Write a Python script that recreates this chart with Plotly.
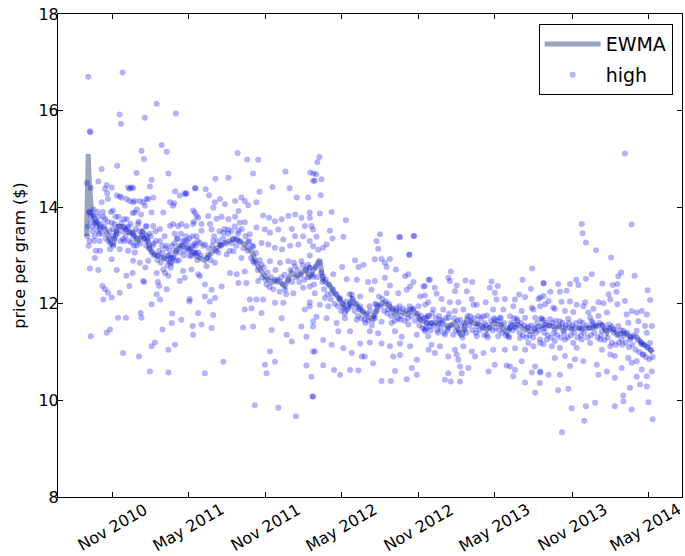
import pandas as pd
import plotly.graph_objects as go

START = "2010-09-01"

# ---- scatter "high": day offsets from START and price per gram ----
a_top_day = [4,86,167,213,79,82,139,8,9,179,131,191,137,73,36,119,195,155,28,1,48,10,151,258,107,44,111,211,234,236,49,222,72,79,159,95,103,115,127,135,147,139,36,206,209,51,63,115,155,183,258,8,16,99,103,238,199,143,83,111,60,254,262]
a_top_val = [16.70,16.79,16.14,15.94,15.92,15.73,15.85,15.57,15.55,15.29,15.17,15.15,15.00,14.86,14.79,14.71,14.70,14.57,14.53,14.50,14.46,14.40,14.43,14.39,14.41,14.38,14.40,14.33,14.29,14.27,14.29,14.24,14.24,14.22,14.20,14.17,14.13,14.13,14.13,14.10,14.17,14.03,14.10,14.03,14.08,14.17,13.93,13.89,13.89,13.89,13.89,13.89,13.82,14.41,14.38,14.29,14.10,14.17,14.20,14.10,14.41,13.93,13.82]

a_mid_day = [20,24,32,44,60,67,83,91,103,110,123,143,159,175,199,206,218,226,238,254,256,63,87,107,119,139,175,191,215,234,254,79,32,56,99,115,155,199,222,246,266]
a_mid_val = [13.68,13.61,13.55,13.75,13.68,13.65,13.68,13.58,13.48,13.88,13.65,13.61,13.61,13.55,13.61,13.65,13.61,13.65,13.61,13.65,13.70,13.41,13.34,13.27,13.20,13.34,13.30,13.20,13.34,13.30,13.20,13.13,13.10,13.13,13.10,13.06,13.06,13.10,13.06,12.99,13.06]

a_ext_day = [2,5,6,12,14,18,22,26,30,40,52,58,64,70,76,90,96,100,112,120,126,130,134,142,150,160,164,170,180,186,194,200,204,210,220,228,232,240,244,250,260,264]
a_ext_val = [13.40,13.20,13.90,13.70,13.50,13.30,13.10,13.90,13.45,13.80,13.30,13.90,13.20,13.50,13.80,13.30,13.75,13.60,13.40,13.95,13.50,13.85,13.40,13.20,13.45,13.25,13.50,13.00,13.20,13.40,13.00,12.95,13.20,13.45,12.90,13.20,13.00,13.30,13.10,13.00,13.20,12.90]

a_low_day = [8,28,60,72,95,111,127,147,167,183,199,215,230,250,266,38,40,60,44,51,79,102,135,137,173,170,191,195,187,222,234,246,245,167,155,175,10,48,56,75,94,131,129,155,163,181,195,211,203,226,204,253,254,87,125,151,195,110,20,140]
a_low_val = [12.73,12.70,12.92,12.70,12.58,12.89,12.85,12.89,12.64,12.71,12.85,12.89,12.68,12.71,12.61,12.37,12.09,12.13,12.30,12.23,12.23,12.37,12.47,12.45,12.37,12.45,12.30,12.58,12.64,12.47,12.54,12.10,12.05,12.20,11.99,12.09,11.33,11.40,11.47,11.71,11.71,11.71,11.81,11.12,11.20,11.47,11.05,11.15,11.60,11.67,11.80,11.54,11.36,10.98,10.91,10.60,10.58,12.64,12.95,12.75]

a_core_day = [3,7,11,15,17,19,23,27,29,31,34,37,39,42,46,50,54,57,62,66,69,74,78,81,85,89,93,97,101,105,109,113,117,121,124,128,133,137,141,145,149,153,157,161,165,169,173,177,181,185,189,193,197,201,205,209,213,217,221,225,229,233,237,241,245,249,253,257,261,265]
a_core_val = [13.6,13.3,13.8,13.6,13.95,13.4,13.7,13.5,13.8,13.3,13.65,13.45,13.9,13.6,13.35,13.7,13.5,13.25,13.55,13.35,13.8,13.45,13.6,13.3,13.5,13.75,13.4,13.55,13.3,13.65,13.45,13.2,13.55,13.35,13.7,13.25,13.5,13.35,13.6,13.3,13.15,13.4,13.2,13.0,13.3,12.9,13.1,12.85,13.05,12.95,13.15,12.8,13.0,12.75,12.95,13.25,13.1,13.35,13.2,13.45,13.3,13.1,13.4,13.2,13.35,13.15,13.4,13.25,13.05,13.3]

b_day = [360,383,409,397,474,307,338,443,484,412,284,292,260,540,501,528,318,306,354,377,405,369,302,330,362,385,310,338,290,266,274,294,322,354,377,365,421,435,449,465,481,497,512,532,489,520,540,405,425,437,457,338,326,298,274,262,362,389,270,282,302,318,346,358,385,397,417,433,449,466,485,505,516,532,497,469,258,290,314,334,350,369,397,417,437,461,481,497,512,528,286,306,342,358,377,270,282,298,322,362,381,409,429,449,473,493,516,532,282,294,306,389,405,421,449,469,520,532,377,393,417,465,266,302,274,298,373,397,441,477,489,512,524,540,437,425,449,429,326,282,524,540,401,457,499,538]
b_val = [15.12,14.99,14.98,14.70,14.74,14.59,14.61,14.42,14.39,14.32,14.37,14.25,14.39,14.55,14.20,14.20,14.17,14.10,14.13,14.13,14.10,14.20,13.99,14.06,13.92,14.04,13.76,13.75,13.82,13.78,13.65,13.65,13.80,13.80,13.69,13.68,13.83,13.78,13.71,13.75,13.82,13.85,13.78,13.78,13.55,13.61,13.54,13.58,13.54,13.47,13.54,13.54,13.47,13.54,13.51,13.40,13.51,13.44,13.26,13.23,13.30,13.23,13.26,13.33,13.28,13.18,13.26,13.23,13.16,13.13,13.20,13.23,13.40,13.30,13.40,13.33,13.06,13.02,13.06,13.02,13.09,12.95,12.88,12.81,12.88,12.85,12.88,12.78,12.88,12.81,12.78,12.85,12.64,12.61,12.67,12.57,12.40,12.29,12.36,12.43,12.43,12.47,12.40,12.50,12.29,12.22,12.33,12.36,12.15,12.05,12.12,12.09,12.09,12.09,12.02,12.02,11.88,11.95,11.88,11.91,11.81,11.70,11.81,11.77,11.57,11.50,11.51,11.53,11.46,11.36,11.22,11.53,11.32,11.64,11.01,10.74,10.80,10.56,10.80,10.56,10.72,11.01,9.90,9.85,9.67,10.08]

b_core_day = [272,278,286,291,296,300,304,309,313,317,321,325,329,333,337,341,345,349,353,357,361,366,370,374,379,384,388,392,396,400,404,408,413,418,422,427,431,436,440,445,450,455,460,464,468,472,476,480,486,490,494,498,503,507,511,515,519,523,527,531]
b_core_val = [13.0,13.2,12.95,13.15,12.9,13.2,13.4,13.1,13.3,13.5,13.2,13.35,13.55,13.25,13.45,13.1,13.5,13.35,13.6,13.2,13.45,13.3,13.55,13.15,13.4,13.1,13.3,12.95,13.2,12.85,13.05,12.7,12.9,12.55,12.75,12.5,12.65,12.35,12.55,12.3,12.7,12.45,12.25,12.55,12.4,12.6,12.2,12.5,12.7,12.45,12.85,12.55,12.7,12.45,12.6,12.8,12.5,12.7,12.55,12.75]

c_day = [544,558,584,556,532,618,536,580,586,612,548,699,691,695,745,779,769,572,564,552,540,532,687,703,723,640,660,648,711,715,737,609,588,532,540,564,620,644,671,687,711,723,759,771,803,815,795,763,544,568,584,604,632,652,679,715,743,532,556,576,612,628,652,674,691,719,739,771,791,807,548,572,596,616,644,663,687,703,727,747,767,795,811,540,600,628,675,695,735,751,787,807,584,564,612,632,652,675,703,723,747,771,815,544,656,663,683,731,747,787,775,564,590,604,628,648,735,703,725,763,787,540,536,541,555,550,547,560,533,747,781,769,767,779]
c_val = [14.55,14.25,13.90,13.87,13.89,13.73,13.61,13.51,13.35,13.39,13.39,13.44,13.30,13.14,13.39,13.40,13.01,13.23,13.16,13.12,13.19,13.00,12.92,12.93,12.93,12.90,12.81,12.76,12.85,12.76,12.71,12.76,12.61,12.74,12.56,12.56,12.51,12.50,12.45,12.47,12.54,12.38,12.57,12.36,12.36,12.50,12.15,12.29,12.22,12.12,12.22,12.12,12.19,12.15,12.29,12.22,12.22,12.03,11.98,11.95,11.91,12.00,11.95,11.95,11.98,11.88,11.91,11.88,11.95,11.98,11.73,11.70,11.60,11.70,11.67,11.67,11.70,11.63,11.60,11.67,11.57,11.67,11.60,11.53,11.43,11.43,11.43,11.39,11.43,11.32,11.36,11.43,11.15,11.25,11.08,10.98,11.18,11.20,11.18,11.12,11.18,11.12,11.05,11.01,10.91,10.91,10.77,10.91,10.94,10.84,10.67,10.73,10.63,10.53,10.63,10.62,10.61,10.40,10.40,10.44,10.53,10.08,10.49,14.70,15.04,14.93,14.68,14.58,14.72,13.38,13.41,13.02,12.61,12.45]

c_core_day = [538,542,546,550,554,559,562,566,570,574,578,582,587,591,595,599,603,607,611,615,619,623,627,631,635,639,643,647,651,655,659,664,668,672,676,680,684,688,692,697,701,705,709,713,717,721,726,730,734,738,742,746,750,754,758,762,766,770,774,778,783,789,793,797,801,805,809,813]
c_core_val = [12.6,12.4,12.75,12.55,12.85,12.65,12.45,12.3,12.5,12.2,12.4,12.1,12.3,12.0,12.2,11.95,12.1,11.85,12.0,11.8,12.05,11.9,12.2,11.95,12.1,11.85,12.0,11.75,11.9,11.7,11.85,11.6,11.8,11.65,11.85,11.55,11.75,12.0,11.85,12.15,11.95,12.1,11.85,12.05,11.8,12.0,11.75,11.9,11.65,11.85,11.7,11.95,11.75,11.9,11.65,11.85,11.7,11.95,11.75,11.9,11.65,11.8,11.55,11.75,11.5,11.7,11.5,11.75]

d_day = [1062,868,862,818,866,882,903,919,965,980,1039,1059,1089,806,830,834,878,906,961,973,846,866,886,918,930,951,977,997,1021,1031,1045,1061,1077,814,806,826,850,878,898,922,946,969,993,1017,1037,1065,1081,810,822,842,862,890,914,934,954,973,985,1009,1025,1045,1069,1089,818,838,862,902,930,949,989,1009,1021,1053,806,814,838,854,874,930,954,981,1005,1033,1081,822,842,878,898,918,946,969,997,1021,1045,1065,830,882,886,926,862,1001,1009,973,1037,1053,890,910,1069,894,958,1021,1061,1081,862,854,868,890,1017,1045,1080,1069]
d_val = [12.73,12.67,12.54,12.50,12.47,12.38,12.48,12.45,12.46,12.37,12.50,12.31,12.42,12.37,12.33,12.21,12.26,12.26,12.33,12.23,12.10,12.03,12.03,12.10,11.98,12.03,12.09,12.10,12.09,12.19,12.14,11.92,12.10,12.03,12.17,11.88,11.88,11.85,11.88,11.98,11.74,11.88,11.88,11.95,11.85,11.88,11.95,11.71,11.60,11.67,11.71,11.67,11.74,11.74,11.76,11.67,11.71,11.74,11.69,11.71,11.71,11.67,11.53,11.57,11.50,11.47,11.53,11.60,11.57,11.50,11.53,11.53,11.47,11.33,11.40,11.36,11.36,11.33,11.36,11.33,11.33,11.29,11.19,11.15,11.12,11.05,11.12,11.01,10.98,11.05,11.05,11.08,11.05,11.12,10.98,10.95,10.84,10.91,10.91,10.72,10.70,10.74,10.81,11.19,10.70,10.67,10.70,10.56,10.60,10.63,10.58,10.58,10.56,10.43,10.39,10.39,10.50,10.37,10.36,10.16]

d_core_day = [816,820,824,828,832,836,840,844,848,852,856,860,864,870,876,880,884,888,892,896,900,905,908,912,916,920,924,928,932,936,940,944,948,952,956,960,964,968,971,975,979,983,987,991,995,999,1003,1007,1011,1015,1019,1023,1027,1032,1035,1040,1043,1048,1051,1056,1060,1064,1067,1071,1074,1078,1083,1087]
d_core_val = [11.75,11.45,11.8,11.55,11.7,11.45,11.75,11.5,11.65,11.4,11.7,11.45,11.8,11.55,11.7,11.45,11.65,11.4,11.55,11.3,11.6,11.4,11.75,11.55,11.65,11.45,11.7,11.4,11.6,11.45,11.7,11.5,11.35,11.55,11.3,11.5,11.65,11.45,11.7,11.5,11.65,11.45,11.7,11.4,11.6,11.35,11.5,11.3,11.6,11.45,11.7,11.5,11.65,11.4,11.6,11.35,11.55,11.3,11.5,11.35,11.55,11.3,11.5,11.4,11.6,11.45,11.7,11.5]

e_day = [1283,1299,1180,1182,1190,1214,1250,1274,1267,1204,1190,1167,1152,1172,1124,1144,1089,1306,1229,1254,1265,1244,1263,1337,1343,1089,1105,1128,1101,1112,1132,1152,1168,1188,1208,1220,1232,1248,1265,1283,1299,1311,1323,1335,1081,1093,1116,1140,1160,1184,1196,1240,1287,1085,1105,1128,1148,1176,1200,1220,1244,1267,1291,1315,1331,1347,1093,1116,1136,1156,1180,1204,1208,1228,1255,1279,1311,1335,1081,1097,1116,1140,1160,1180,1200,1224,1248,1275,1295,1323,1343,1089,1109,1128,1168,1228,1248,1259,1291,1311,1327,1116,1140,1164,1184,1216,1299,1275,1240,1152,1081,1101,1128,1220,1259,1311,1319,1335,1347,1335,1295,1124,1148,1279,1279,1339,1299,1259,1212,1190,1156,1186,1349,1323,1133]
e_val = [15.11,13.64,13.65,13.46,13.27,13.11,12.96,12.65,12.57,12.61,12.52,12.50,12.41,12.39,12.41,12.27,12.43,12.58,12.42,12.39,12.41,12.20,12.25,12.28,12.08,12.16,12.25,12.25,12.06,11.92,12.04,12.05,11.98,12.03,11.90,12.03,12.01,12.09,11.99,12.06,11.85,11.82,11.85,11.78,12.13,11.99,11.89,11.85,11.83,11.95,11.82,11.82,11.78,11.68,11.68,11.64,11.69,11.64,11.71,11.75,11.57,11.54,11.61,11.64,11.54,11.54,11.50,11.48,11.44,11.47,11.47,11.64,11.54,11.44,11.47,11.44,11.44,11.40,11.26,11.26,11.23,11.26,11.19,11.26,11.19,11.26,11.12,11.26,11.26,11.16,11.19,11.16,11.12,11.09,11.09,11.05,10.95,10.92,10.88,10.81,10.95,10.88,10.92,10.85,10.81,10.74,10.78,10.67,10.60,10.71,10.60,10.53,10.53,10.53,10.47,10.49,10.33,10.29,10.60,10.50,10.26,10.21,10.24,10.10,9.98,9.96,9.81,9.88,9.95,9.88,9.84,9.58,9.61,10.64,9.34]

e_core_day = [1091,1095,1099,1103,1107,1111,1114,1118,1121,1126,1130,1134,1138,1142,1146,1150,1154,1158,1162,1166,1170,1174,1178,1182,1186,1192,1194,1198,1202,1206,1210,1214,1218,1222,1226,1230,1234,1238,1242,1246,1252,1256,1261,1265,1269,1273,1277,1281,1285,1289,1293,1297,1301,1304,1308,1313,1317,1321,1325,1329,1333,1337,1341,1345,1349]
e_core_val = [11.4,11.6,11.35,11.55,11.3,11.6,11.4,11.65,11.35,11.55,11.3,11.6,11.4,11.55,11.3,11.6,11.35,11.55,11.4,11.6,11.3,11.5,11.35,11.6,11.4,11.55,11.3,11.5,11.35,11.6,11.4,11.55,11.3,11.6,11.35,11.55,11.25,11.45,11.3,11.5,11.2,11.4,11.15,11.35,11.2,11.45,11.15,11.35,11.2,11.4,11.1,11.3,11.15,11.35,11.05,11.25,11.0,11.2,10.95,11.15,10.9,11.1,10.85,11.05,10.9]

# ---- EWMA line ----
ewma_day = [0,2,4,6,8,12,20,32,44,56,63,75,87,98,111,122,134,144,151,163,175,191,203,215,230,246,263,282,306,330,354,377,394,408,425,442,456,473,489,504,520,532,556,563,580,597,611,620,632,651,670,682,694,706,723,735,747,764,778,795,811,823,847,861,878,894,906,921,937,954,969,985,1002,1014,1028,1045,1062,1076,1093,1112,1145,1176,1207,1228,1240,1252,1267,1283,1295,1311,1323,1335,1350]
ewma_val = [13.40,14.60,15.10,14.60,14.20,13.90,13.75,13.60,13.55,13.34,13.20,13.60,13.60,13.48,13.48,13.27,13.48,13.40,13.13,13.02,12.98,12.92,12.85,13.13,13.20,13.13,12.98,12.89,13.13,13.27,13.34,13.23,13.07,12.78,12.57,12.44,12.50,12.36,12.65,12.57,12.71,12.57,12.92,12.50,12.37,12.16,11.95,11.88,12.09,11.88,11.74,11.67,11.95,12.02,11.95,11.78,11.85,11.78,11.88,11.67,11.60,11.60,11.60,11.53,11.60,11.32,11.67,11.60,11.57,11.46,11.60,11.57,11.40,11.57,11.57,11.46,11.42,11.53,11.57,11.53,11.50,11.50,11.50,11.57,11.40,11.53,11.36,11.40,11.32,11.32,11.19,11.11,10.99]

tick_dates = ["2010-11-01","2011-05-01","2011-11-01","2012-05-01","2012-11-01","2013-05-01","2013-11-01","2014-05-01"]
tick_labels = ["Nov 2010","May 2011","Nov 2011","May 2012","Nov 2012","May 2013","Nov 2013","May 2014"]
y_ticks = [8, 10, 12, 14, 16, 18]

pairs = [(a_top_day, a_top_val), (a_mid_day, a_mid_val), (a_ext_day, a_ext_val),
         (a_low_day, a_low_val), (a_core_day, a_core_val),
         (b_day, b_val), (b_core_day, b_core_val),
         (c_day, c_val), (c_core_day, c_core_val),
         (d_day, d_val), (d_core_day, d_core_val),
         (e_day, e_val), (e_core_day, e_core_val)]
high_day, high_val = [], []
for dd, vv in pairs:
    assert len(dd) == len(vv), (len(dd), len(vv))
    high_day += dd
    high_val += vv
assert len(ewma_day) == len(ewma_val)

start = pd.Timestamp(START)
high_x = start + pd.to_timedelta(high_day, unit="D")
ewma_x = start + pd.to_timedelta(ewma_day, unit="D")

FONT = "DejaVu Sans"
fig = go.Figure()
fig.add_trace(go.Scatter(
    x=ewma_x, y=ewma_val, mode="lines", name="EWMA", legendgroup="g1",
    line=dict(color="rgba(100,115,152,0.65)", width=5),
))
fig.add_trace(go.Scatter(
    x=high_x, y=high_val, mode="markers", name="high", legendgroup="g2",
    marker=dict(color="rgba(0,0,255,0.3)", size=6, line=dict(width=0)),
))

fig.update_layout(
    width=685, height=556,
    margin=dict(l=58, r=3, t=14, b=59),
    paper_bgcolor="white", plot_bgcolor="white",
    font=dict(family=FONT, size=16, color="black"),
    showlegend=True,
    legend=dict(
        x=0.985, y=0.979, xanchor="right", yanchor="top",
        bgcolor="white", bordercolor="black", borderwidth=1,
        font=dict(family=FONT, size=19, color="black"),
        itemwidth=56, tracegroupgap=3,
    ),
)
fig.update_xaxes(
    range=["2010-06-25", "2014-07-21"],
    tickvals=tick_dates, showticklabels=False,
    ticks="inside", ticklen=5, tickcolor="black",
    showline=True, linecolor="black", linewidth=1, mirror="allticks",
    showgrid=False, zeroline=False,
)
for i, (d, lab) in enumerate(zip(tick_dates, tick_labels)):
    fig.add_annotation(
        x=d, y=-0.063, xref="x", yref="paper", text=lab, textangle=-30,
        showarrow=False, xanchor="center", yanchor="middle",
        xshift=(-3 if i == len(tick_dates) - 1 else 0),
        font=dict(family=FONT, size=16, color="black"),
    )
fig.update_yaxes(
    range=[8, 18], tickvals=y_ticks,
    ticks="inside", ticklen=5, tickcolor="black",
    showline=True, linecolor="black", linewidth=1, mirror="allticks",
    showgrid=False, zeroline=False, ticklabelstandoff=-5,
    tickfont=dict(family=FONT, size=16, color="black"),
    title=dict(text="price per gram ($)", font=dict(family=FONT, size=16, color="black"), standoff=8),
)
fig.write_html(
    "out.html",
    config={"displayModeBar": False},
    post_script="document.body.style.margin='0px';document.body.style.overflow='hidden';",
)
